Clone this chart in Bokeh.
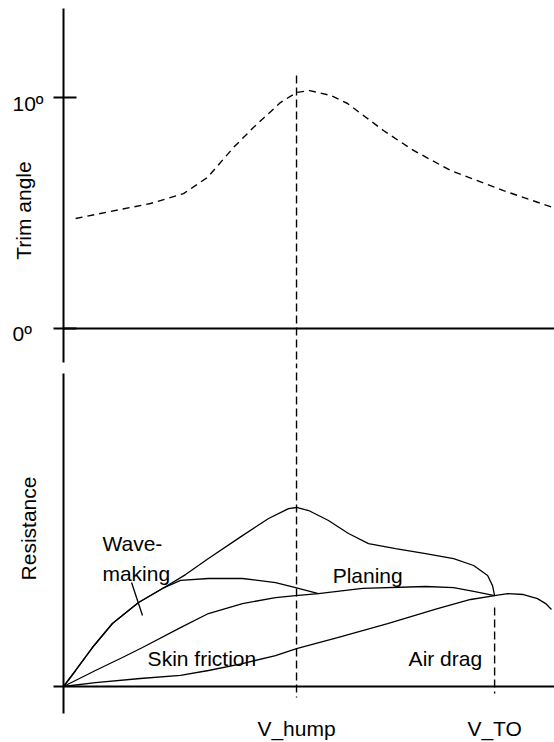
from bokeh.plotting import figure
from bokeh.models import Range1d, LinearAxis, FixedTicker, Span, CustomLabelingPolicy
from bokeh.core.properties import value
from bokeh.layouts import column, row
from bokeh.embed import file_html
from bokeh.resources import INLINE

# ---------------- data (speed in units of V_hump) ----------------
V_HUMP = 1.0
V_TO = 1.85
speed_ticks = [V_HUMP, V_TO]
speed_tick_labels = ["V_hump", "V_TO"]

trim_ticks = [0, 10]
trim_tick_labels = ["0º", "10º"]

# trim angle (degrees) vs speed
trim_speed = [0.052, 0.159, 0.373, 0.515, 0.618, 0.730, 0.815, 0.931, 1.000,
              1.056, 1.146, 1.219, 1.373, 1.502, 1.661, 1.888, 2.099]
trim_deg = [4.76, 4.98, 5.41, 5.84, 6.54, 7.84, 8.70, 9.78, 10.22,
            10.30, 10.09, 9.74, 8.57, 7.71, 6.84, 5.97, 5.24]

# total resistance (wave-making + planing envelope)
total_speed = [0.0, 0.052, 0.124, 0.210, 0.322, 0.425, 0.524, 0.622, 0.768,
               0.880, 0.966, 1.000, 1.052, 1.137, 1.223, 1.309, 1.425, 1.554,
               1.674, 1.760, 1.820, 1.841, 1.850]
total_res = [0.0, 0.090, 0.219, 0.354, 0.472, 0.551, 0.629, 0.719, 0.848,
             0.944, 1.000, 1.006, 0.989, 0.933, 0.860, 0.803, 0.775, 0.747,
             0.719, 0.680, 0.624, 0.567, 0.511]

# wave-making resistance curve
wave_speed = [0.0, 0.052, 0.124, 0.210, 0.322, 0.425, 0.502, 0.622, 0.768,
              0.910, 0.996, 1.094]
wave_res = [0.0, 0.090, 0.219, 0.354, 0.472, 0.551, 0.596, 0.607, 0.607,
            0.584, 0.556, 0.522]

# skin friction curve
skin_speed = [0.0, 0.137, 0.253, 0.339, 0.502, 0.622, 0.768, 0.910, 0.996,
              1.094, 1.283, 1.554, 1.674, 1.760, 1.850]
skin_res = [0.0, 0.090, 0.163, 0.219, 0.331, 0.410, 0.466, 0.500, 0.511,
            0.522, 0.551, 0.562, 0.556, 0.534, 0.511]

# air drag curve
air_speed = [0.0, 0.137, 0.330, 0.502, 0.622, 0.768, 0.910, 1.000, 1.176,
             1.391, 1.605, 1.747, 1.850, 1.906, 1.974, 2.034, 2.069, 2.094]
air_res = [0.0, 0.022, 0.045, 0.062, 0.090, 0.129, 0.174, 0.213, 0.275,
           0.354, 0.438, 0.489, 0.511, 0.522, 0.517, 0.494, 0.466, 0.433]

# ---------------- styling ----------------
FONT = "Liberation Sans"
FS = "21px"
INK = "black"

X_RANGE = (0.0, 2.107)        # main plotting area
X_LEFT = (-0.2704, -0.0429)   # strip left of the axes (for the axis texts)
HALF_PI = 1.5707963

TOP_H, BOT_H = 368, 374
TOP_PAD, BOT_PAD = 8, 29

hide_labels = CustomLabelingPolicy(code="""
for (let i = 0; i < indices.size; i++) indices.unset(i)
return indices
""")

common = dict(output_backend="svg", toolbar_location=None,
              x_axis_type=None, y_axis_type=None,
              outline_line_color=None, background_fill_color="white",
              border_fill_color="white", min_border_right=0)

trim_range = Range1d(-1.732, 13.853)
res_range = Range1d(-0.1517, 1.787)


def bare_y_axis(ticks, bounds, tick_in):
    return LinearAxis(ticker=FixedTicker(ticks=ticks), bounds=bounds,
                      major_tick_in=tick_in, major_tick_out=10,
                      axis_line_width=2, axis_line_color=INK,
                      major_tick_line_width=2, major_tick_line_color=INK,
                      minor_tick_line_color=None,
                      major_label_overrides={t: "" for t in ticks},
                      major_label_text_font_size="0px",
                      major_label_policy=hide_labels,
                      major_label_standoff=0)


# ---------------- top panel: trim angle ----------------
top = figure(width=501, height=TOP_H, x_range=Range1d(*X_RANGE), y_range=trim_range,
             min_border_left=10, min_border_top=TOP_PAD, min_border_bottom=0, **common)
top.add_layout(bare_y_axis(trim_ticks, (-1.472, 13.853), 13), "left")
top.add_layout(Span(location=0, dimension="width", line_color=INK, line_width=2))

top.line(trim_speed, trim_deg, line_color=INK, line_width=1.4, line_dash="7 5")
top.segment(x0=[V_HUMP], y0=[10.95], x1=[V_HUMP], y1=[-2.0],
            line_color=INK, line_width=1.4, line_dash="8 4")

top_left = figure(width=53, height=TOP_H, x_range=Range1d(*X_LEFT), y_range=trim_range,
                  min_border_left=0, min_border_top=TOP_PAD, min_border_bottom=0, **common)
top_left.text(x=[-0.219, -0.219], y=[-0.216, 9.74], text=trim_tick_labels,
              text_font=value(FONT), text_font_size=value(FS), text_color=INK,
              text_align="left", text_baseline="alphabetic")
top_left.text(x=[-0.171], y=[5.108], text=["Trim angle"], angle=HALF_PI,
              text_font=value(FONT), text_font_size=value(FS), text_color=INK,
              text_align="center", text_baseline="alphabetic")

# ---------------- bottom panel: resistance ----------------
bot = figure(width=501, height=BOT_H, x_range=Range1d(*X_RANGE), y_range=res_range,
             min_border_left=10, min_border_top=0, min_border_bottom=BOT_PAD, **common)
bot.add_layout(bare_y_axis([0], (-0.1517, 1.758), 0), "left")

xax_bot = LinearAxis(ticker=FixedTicker(ticks=speed_ticks),
                     major_label_overrides=dict(zip(speed_ticks, speed_tick_labels)),
                     axis_line_color=None, major_tick_line_color=None,
                     minor_tick_line_color=None,
                     major_tick_in=0, major_tick_out=0,
                     major_label_standoff=3,
                     major_label_text_font=FONT,
                     major_label_text_font_size=FS,
                     major_label_text_color=INK)
bot.add_layout(xax_bot, "below")
bot.add_layout(Span(location=0, dimension="width", line_color=INK, line_width=2))

for xs, ys in [(total_speed, total_res), (wave_speed, wave_res),
               (skin_speed, skin_res), (air_speed, air_res)]:
    bot.line(xs, ys, line_color=INK, line_width=1.3)

# pointer for the wave-making label
bot.segment(x0=[0.292], y0=[0.584], x1=[0.339], y1=[0.399],
            line_color=INK, line_width=1.3)

bot.segment(x0=[V_HUMP, V_TO], y0=[1.9, 0.444], x1=[V_HUMP, V_TO], y1=[-0.062, -0.039],
            line_color=INK, line_width=1.4, line_dash="8 4")

bot.text(x=[0.167, 0.167, 0.361, 1.155, 1.481],
         y=[0.803, 0.635, 0.157, 0.624, 0.157],
         text=["Wave-", "making", "Skin friction", "Planing", "Air drag"],
         text_font=value(FONT), text_font_size=value(FS), text_color=INK,
         text_align="left", text_baseline="alphabetic")

bot_left = figure(width=53, height=BOT_H, x_range=Range1d(*X_LEFT), y_range=res_range,
                  min_border_left=0, min_border_top=0, min_border_bottom=BOT_PAD, **common)
bot_left.text(x=[-0.150], y=[0.888], text=["Resistance"], angle=HALF_PI,
              text_font=value(FONT), text_font_size=value(FS), text_color=INK,
              text_align="center", text_baseline="alphabetic")

layout = column(row(top_left, top, spacing=0), row(bot_left, bot, spacing=0), spacing=0)
open("out.html", "w").write(file_html(layout, INLINE))
